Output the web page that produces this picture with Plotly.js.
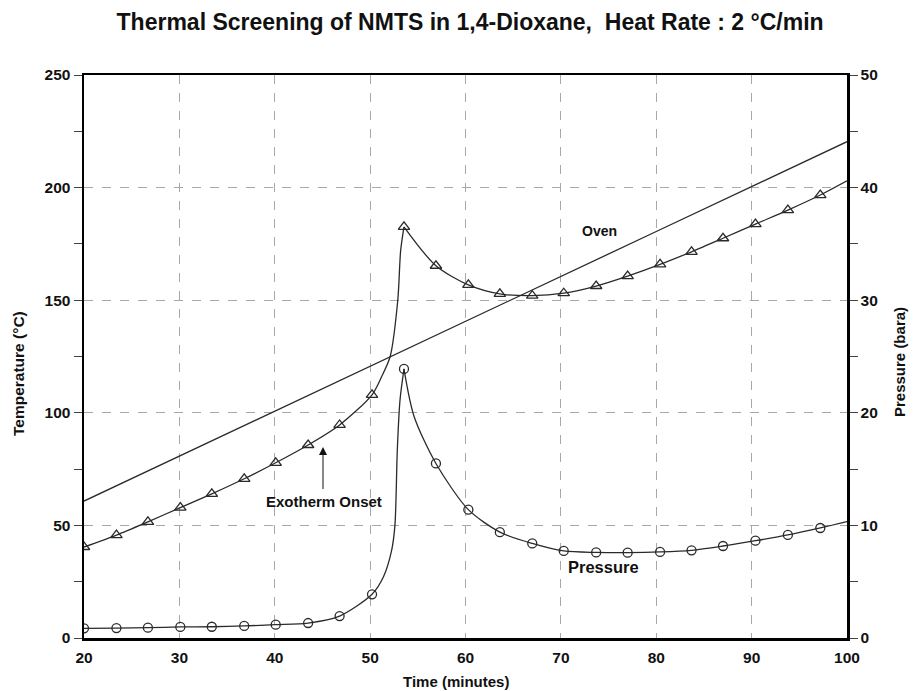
<!DOCTYPE html>
<html>
<head>
<meta charset="utf-8">
<script src="https://cdn.plot.ly/plotly-3.0.1.min.js"></script>
<style>html,body{margin:0;padding:0;background:#fff;}#chart{width:913px;height:691px;}</style>
</head>
<body>
<div id="chart"></div>
<script>
// Sample times (minutes) for the marked points
const sampleTime = [20.0, 23.4, 26.7, 30.1, 33.4, 36.8, 40.1, 43.5, 46.8, 50.2, 53.55, 56.9, 60.3, 63.6, 67.0, 70.3, 73.7, 77.0, 80.4, 83.7, 87.0, 90.4, 93.8, 97.2];
// Sample temperature (°C) at marked points
const sampleTemp = [40.4, 45.7, 51.6, 57.9, 64.0, 70.7, 77.8, 85.7, 94.6, 108.0, 182.6, 165.3, 156.8, 152.8, 152.0, 153.1, 156.3, 160.7, 165.9, 171.5, 177.5, 183.8, 190.0, 196.7];
// Pressure (bara) at marked points
const samplePress = [0.86, 0.88, 0.92, 0.98, 1.0, 1.07, 1.18, 1.33, 1.95, 3.88, 23.9, 15.5, 11.4, 9.4, 8.4, 7.73, 7.6, 7.58, 7.64, 7.79, 8.17, 8.64, 9.15, 9.77];

const tempRiseTime = [51.2, 52.1, 52.9, 53.2];
const tempRiseVal  = [116, 125, 150, 172];
const pressRiseTime = [51.4, 52.26, 52.6, 52.85, 53.13];
const pressRiseVal  = [5.44, 7.8, 10.0, 16.7, 21.1];
const pressFallTime = [54.6];
const pressFallVal  = [19.7];
const endTime = 100;
const tempEnd = 203.0;
const pressEnd = 10.33;

// Oven temperature (straight ramp)
const ovenTime = [20, 40, 60, 80, 100];
const ovenTemp = [60.8, 100.6, 140.6, 180.5, 220.4];

const peakIdx = 10;

// Build curve arrays from the read values
function riseFall(sx, sy, rx, ry, fx, fy, ex, ey) {
  const riseX = sx.slice(0, peakIdx).concat(rx, [sx[peakIdx]]);
  const riseY = sy.slice(0, peakIdx).concat(ry, [sy[peakIdx]]);
  const fallX = [sx[peakIdx]].concat(fx, sx.slice(peakIdx + 1), [ex]);
  const fallY = [sy[peakIdx]].concat(fy, sy.slice(peakIdx + 1), [ey]);
  return {riseX, riseY, fallX, fallY};
}
const T = riseFall(sampleTime, sampleTemp, tempRiseTime, tempRiseVal, [], [], endTime, tempEnd);
const P = riseFall(sampleTime, samplePress, pressRiseTime, pressRiseVal, pressFallTime, pressFallVal, endTime, pressEnd);

const lineCol = '#2a2a2a';
const lineStyle = {color: lineCol, width: 1.3, shape: 'spline', smoothing: 0.8};
const FONT = 'Liberation Sans, Arial, Helvetica, sans-serif';

const traces = [
  {x: ovenTime, y: ovenTemp, mode: 'lines', line: {color: lineCol, width: 1.3}, yaxis: 'y', hoverinfo: 'skip'},
  {x: T.riseX, y: T.riseY, mode: 'lines', line: lineStyle, yaxis: 'y'},
  {x: T.fallX, y: T.fallY, mode: 'lines', line: lineStyle, yaxis: 'y'},
  {x: sampleTime, y: sampleTemp, mode: 'markers', yaxis: 'y',
   marker: {symbol: 'triangle-up-open', size: 10, color: lineCol, line: {width: 1.3, color: lineCol}}},
  {x: P.riseX, y: P.riseY, mode: 'lines', line: lineStyle, yaxis: 'y2'},
  {x: P.fallX, y: P.fallY, mode: 'lines', line: lineStyle, yaxis: 'y2'},
  {x: sampleTime, y: samplePress, mode: 'markers', yaxis: 'y2',
   marker: {symbol: 'circle-open', size: 9, color: lineCol, line: {width: 1.3, color: lineCol}}}
];

const tickFont = {family: FONT, size: 15.5, color: '#111', weight: 'bold'};
const gridCol = '#a8a8a8';

const layout = {
  width: 913, height: 691,
  margin: {l: 84, r: 66, t: 75, b: 53},
  paper_bgcolor: '#fff', plot_bgcolor: '#fff',
  showlegend: false,
  title: {
    text: '<b>Thermal Screening of NMTS in 1,4-Dioxane,  Heat Rate : 2 °C/min</b>',
    font: {family: FONT, size: 23, color: '#111'},
    xref: 'paper', x: 0.506, xanchor: 'center',
    yref: 'container', y: 1 - 22 / 691, yanchor: 'middle'
  },
  xaxis: {
    range: [20, 100], tickmode: 'array', tickvals: [20, 30, 40, 50, 60, 70, 80, 90, 100],
    showgrid: true, gridcolor: gridCol, griddash: 'dash', gridwidth: 1,
    zeroline: false, showline: true, linecolor: '#000', linewidth: 2.5, mirror: true,
    ticks: '', tickfont: tickFont, ticklabelstandoff: 4
  },
  yaxis: {
    range: [0, 250], tickmode: 'array', tickvals: [0, 50, 100, 150, 200, 250],
    showgrid: true, gridcolor: gridCol, griddash: 'dash', gridwidth: 1,
    zeroline: false, showline: true, linecolor: '#000', linewidth: 2.5, mirror: true,
    ticks: 'outside', ticklen: 8, tickwidth: 1, tickcolor: '#444',
    minor: {tickvals: [25, 75, 125, 175, 225], ticks: 'outside', ticklen: 8, tickwidth: 1, tickcolor: '#444', showgrid: false},
    tickfont: tickFont
  },
  yaxis2: {
    range: [0, 50], overlaying: 'y', side: 'right', tickmode: 'array', tickvals: [0, 10, 20, 30, 40, 50],
    showgrid: false, zeroline: false, showline: true, linecolor: '#000', linewidth: 2.5,
    ticks: 'outside', ticklen: 8, tickwidth: 1, tickcolor: '#444',
    minor: {tickvals: [5, 15, 25, 35, 45], ticks: 'outside', ticklen: 8, tickwidth: 1, tickcolor: '#444', showgrid: false},
    tickfont: tickFont
  },
  annotations: [
    {xref: 'paper', yref: 'paper', x: (18 - 84) / 763, y: (638 - 374) / 563, text: '<b>Temperature (°C)</b>',
     textangle: -90, showarrow: false, font: {family: FONT, size: 15.5, color: '#111'}, xanchor: 'center', yanchor: 'middle'},
    {xref: 'paper', yref: 'paper', x: (899 - 84) / 763, y: (638 - 362) / 563, text: '<b>Pressure (bara)</b>',
     textangle: -90, showarrow: false, font: {family: FONT, size: 15, color: '#111'}, xanchor: 'center', yanchor: 'middle'},
    {xref: 'paper', yref: 'paper', x: (456 - 84) / 763, y: (638 - 681) / 563, text: '<b>Time (minutes)</b>',
     showarrow: false, font: {family: FONT, size: 15, color: '#111'}, xanchor: 'center', yanchor: 'middle'},
    {x: 74.0, y: 180.7, xref: 'x', yref: 'y', text: '<b>Oven</b>', showarrow: false,
     font: {family: FONT, size: 14, color: '#111'}},
    {x: 74.5, y: 31.5, xref: 'x', yref: 'y', text: '<b>Pressure</b>', showarrow: false,
     font: {family: FONT, size: 16.5, color: '#111'}},
    {x: 45.2, y: 60.4, xref: 'x', yref: 'y', text: '<b>Exotherm Onset</b>', showarrow: false,
     font: {family: FONT, size: 15, color: '#111'}},
    {x: 45.06, y: 84.8, xref: 'x', yref: 'y', ax: 45.06, ay: 65.5, axref: 'x', ayref: 'y', text: '',
     showarrow: true, arrowhead: 2, arrowsize: 1.6, arrowwidth: 1, arrowcolor: '#111'}
  ]
};

Plotly.newPlot('chart', traces, layout, {staticPlot: true, displayModeBar: false});
</script>
</body>
</html>
